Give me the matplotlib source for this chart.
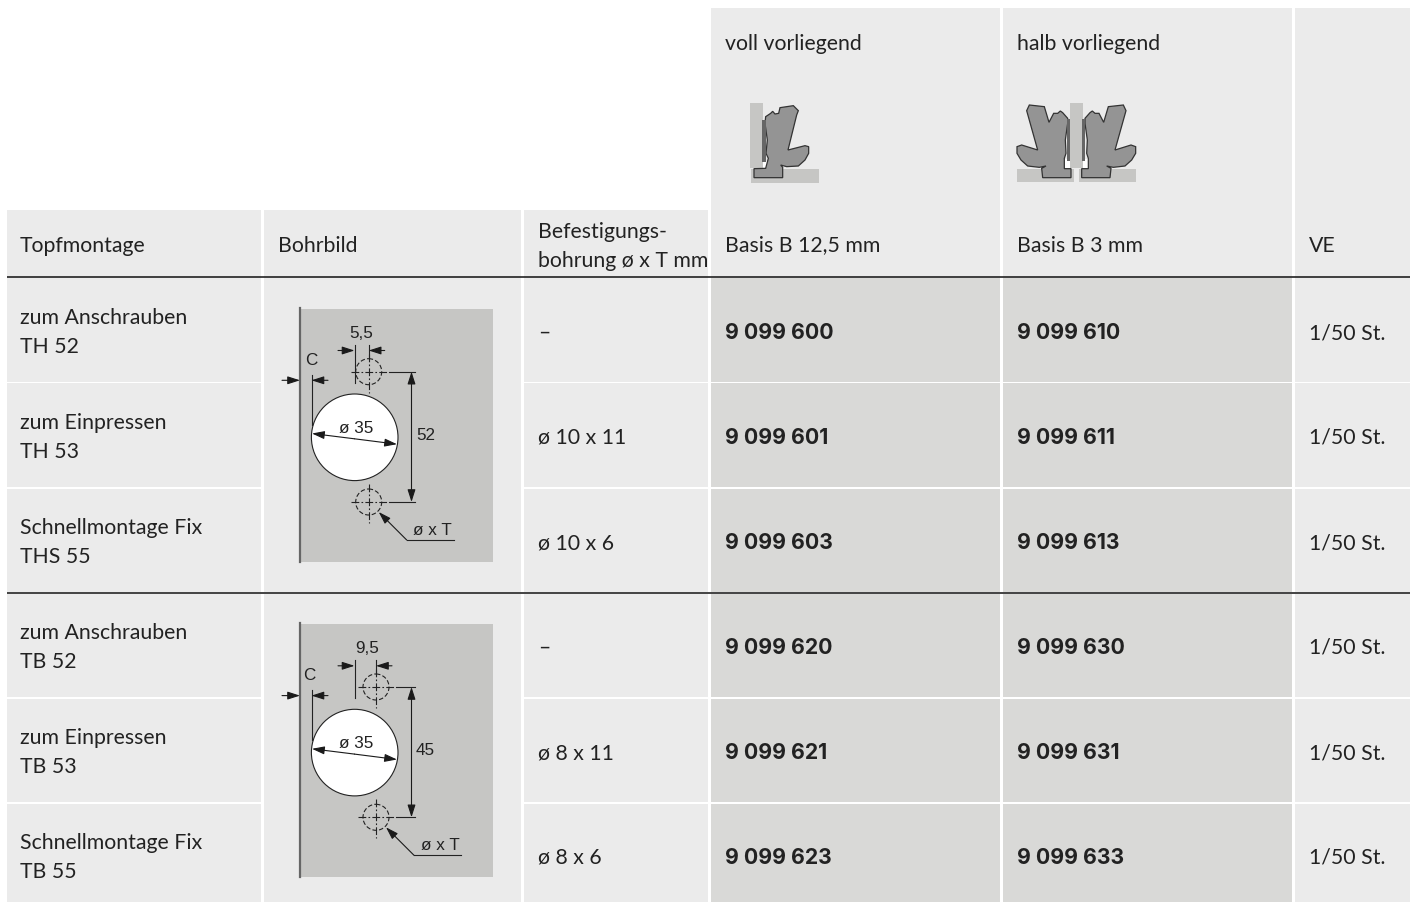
import numpy as np
import matplotlib
matplotlib.use("Agg")
import matplotlib.pyplot as plt
from matplotlib.patches import Rectangle, Circle, Polygon

plt.rcParams['font.family'] = ['Lato', 'DejaVu Sans']

# table content
montage = ["zum Anschrauben\nTH 52", "zum Einpressen\nTH 53", "Schnellmontage Fix\nTHS 55",
           "zum Anschrauben\nTB 52", "zum Einpressen\nTB 53", "Schnellmontage Fix\nTB 55"]
bohrung = ["–", "ø 10 x 11", "ø 10 x 6", "–", "ø 8 x 11", "ø 8 x 6"]
voll = ["9 099 600", "9 099 601", "9 099 603", "9 099 620", "9 099 621", "9 099 623"]
halb = ["9 099 610", "9 099 611", "9 099 613", "9 099 630", "9 099 631", "9 099 633"]
ve = ["1/50 St."] * 6
head = ["Topfmontage", "Bohrbild", "Befestigungs-\nbohrung ø x T mm", "Basis B 12,5 mm", "Basis B 3 mm", "VE"]
top_head = ["voll vorliegend", "halb vorliegend"]

LIGHT = "#ebebeb"
MID = "#d9d9d7"
DARK = "#c6c6c4"
INK = "#222222"
FS = 15.3
SMALL = dict(fontsize=12.3, color=INK, ha="center", va="center", zorder=8, family="Liberation Sans")

col_x = [(7, 260.5), (264, 521), (524, 708), (711, 999.5), (1003, 1291.5), (1295, 1409.7)]
row_y = [(278, 381.5), (383, 487), (488.5, 592), (593.5, 697), (698.5, 802), (803.5, 905)]
row_c = [331, 436, 541, 646, 751, 856]
text_x = [20, 278, 538, 725, 1017, 1309]

fig = plt.figure(figsize=(14.12, 9.03), dpi=100)
ax = fig.add_axes([0, 0, 1, 1])
ax.set_xlim(0, 1412)
ax.set_ylim(902, -1)
ax.axis("off")


def box(x0, x1, y0, y1, c, z=1):
    ax.add_patch(Rectangle((x0, y0), x1 - x0, y1 - y0, fc=c, ec="none", zorder=z))


def label(x, y, s, **kw):
    # y is the baseline of the last line
    kw.setdefault("fontsize", FS)
    ax.text(x, y, s, color=INK, va="baseline", linespacing=1.57, zorder=5, **kw)


# header cells
for i, (x0, x1) in enumerate(col_x):
    top = 8 if i >= 3 else 210
    box(x0, x1, top, 278, LIGHT)
    label(text_x[i], 266 if "\n" in head[i] else 250.5, head[i])

# body cells
for r, (y0, y1) in enumerate(row_y):
    for i, (x0, x1) in enumerate(col_x):
        if i == 1:
            continue
        box(x0, x1, y0, y1, MID if i in (3, 4) else LIGHT)
    yc = row_c[r]
    label(text_x[0], yc + 21, montage[r])
    label(text_x[2], yc + 7, bohrung[r])
    label(text_x[3], yc + 7, voll[r], fontsize=15.3, weight="bold", family="Inter")
    label(text_x[4], yc + 7, halb[r], fontsize=15.3, weight="bold", family="Inter")
    label(text_x[5], yc + 7, ve[r])

box(col_x[1][0], col_x[1][1], 278, 592, LIGHT)
box(col_x[1][0], col_x[1][1], 593.5, 905, LIGHT)

for x, t in zip([725, 1017], top_head):
    label(x, 49, t)

# rules
for y in (277.3, 592.8):
    ax.plot([7, 1409.7], [y, y], color="#222222", lw=1.2, zorder=6, solid_capstyle="butt")


def arrow(p0, p1):
    ax.annotate("", xy=p1, xytext=p0, zorder=8,
                arrowprops=dict(arrowstyle="-|>,head_length=0.75,head_width=0.24", color="#1a1a1a",
                                lw=0.8, shrinkA=0, shrinkB=0))


def line(xs, ys, **kw):
    kw.setdefault("color", "#222222")
    kw.setdefault("lw", 0.8)
    ax.plot(xs, ys, zorder=7, **kw)


def drawing(dy, hole_x, dim, pitch, c_x, dim_x):
    # grey panel
    box(299.5, 492.7, 309 + dy, 561.7 + dy, DARK, 2)
    ax.plot([299.8, 299.8], [308 + dy, 561.7 + dy], color="#666666", lw=1.6, zorder=7)
    cx, cy = 354.7, 437.3 + dy
    ax.add_patch(Circle((cx, cy), 43.3, fc="white", ec="#222222", lw=0.8, zorder=3))
    y_top, y_bot = 371.7 + dy, 502 + dy
    dash = (0, (7, 2, 1.5, 2))
    for y in (y_top, y_bot):
        ax.add_patch(Circle((hole_x, y), 13, fc="none", ec="#222222", lw=0.8, ls=(0, (4, 2)), zorder=4))
        line([hole_x - 18, hole_x + 18], [y, y], ls=dash)
        line([hole_x, hole_x], [y - 18, y + 21], ls=dash)
    # hole spacing
    line([hole_x + 20, 414.5], [y_top, y_top])
    line([hole_x + 20, 414.5], [y_bot, y_bot])
    arrow((411.5, (y_top + y_bot) / 2), (411.5, y_top))
    arrow((411.5, (y_top + y_bot) / 2), (411.5, y_bot))
    ax.text(425.5, 434 + dy, pitch, **SMALL)
    # horizontal offset
    line([354.5, 354.5], [345 + dy, 383 + dy])
    line([hole_x, hole_x], [345 + dy, 358 + dy])
    ax.text(dim_x, 332 + dy, dim, **SMALL)
    arrow((338, 350.5 + dy), (354.5, 350.5 + dy))
    arrow((hole_x + 16, 350.5 + dy), (hole_x, 350.5 + dy))
    # C dimension
    line([311.5, 311.5], [375 + dy, 425 + dy])
    ax.text(c_x, 359 + dy, "C", **SMALL)
    arrow((282, 380.3 + dy), (300, 380.3 + dy))
    arrow((328, 380.3 + dy), (311.5, 380.3 + dy))
    # bore diameter
    arrow((354.5, 438.8 + dy), (312, 433.5 + dy))
    arrow((354.5, 438.8 + dy), (397, 444.2 + dy))
    ax.text(356, 427.5 + dy, "ø 35", **SMALL)
    # leader
    lx = hole_x + 10
    arrow((lx + 28, y_bot + 38), (lx, y_bot + 10))
    line([lx + 28, lx + 75], [y_bot + 38, y_bot + 38])
    ax.text(lx + 54, y_bot + 27.5, "ø x T", **SMALL)


drawing(0, 368.7, "5,5", "52", 311.5, 361)
drawing(315.3, 376, "9,5", "45", 309, 367)

# hinge outlines in pixels relative to the group origin
hinge_a = np.array([(107, 80), (122, 70), (128, 64), (135, 72), (146, 70), (150, 53), (190, 47), (205, 62),
                    (200, 75), (174, 180), (225, 167), (236, 170), (236, 190), (225, 210), (205, 228),
                    (170, 230), (152, 225), (158, 232), (158, 263), (72, 263), (72, 236), (107, 235),
                    (115, 205), (108, 190), (112, 150), (105, 100)], float)
hinge_b = np.array([(240, 85), (255, 68), (262, 63), (270, 70), (282, 70), (296, 97), (310, 50), (355, 45),
                    (363, 62), (330, 180), (378, 165), (392, 170), (392, 190), (380, 210), (360, 228),
                    (325, 232), (305, 228), (318, 235), (315, 263), (230, 263), (230, 236), (250, 236),
                    (250, 205), (245, 190), (247, 150), (240, 100)], float)


def place(pts, ox, oy):
    return pts / 3.0 + np.array([ox, oy])


HG = "#949494"
# voll vorliegend
ox, oy = 730, 90
box(ox + 20, ox + 33, oy + 13, oy + 77.7, "#c6c6c4", 2)
box(ox + 21, ox + 89, oy + 79, oy + 92.7, "#c6c6c4", 2)
box(ox + 33, ox + 38, oy + 71, oy + 79, "white", 3)
ax.add_patch(Polygon(place(hinge_a, ox, oy), fc=HG, ec="#333333", lw=0.9, zorder=4))
box(ox + 32.3, ox + 35.7, oy + 30, oy + 71.7, "#666666", 5)

# halb vorliegend
ox, oy = 1005, 90
box(ox + 65, ox + 77.7, oy + 13, oy + 77.7, "#c6c6c4", 2)
box(ox + 12, ox + 68.7, oy + 79, oy + 91.7, "#c6c6c4", 2)
box(ox + 74, ox + 131, oy + 79, oy + 91.7, "#c6c6c4", 2)
box(ox + 59.5, ox + 65, oy + 69, oy + 78, "white", 3)
box(ox + 77.7, ox + 83, oy + 69, oy + 78, "white", 3)
mirror = hinge_b * np.array([-1, 1]) + np.array([428, 0])
for pts, px in ((hinge_b, 232), (mirror, 187)):
    ax.add_patch(Polygon(place(pts, ox, oy), fc=HG, ec="#333333", lw=0.9, zorder=4))
    box(ox + px / 3.0, ox + (px + 9) / 3.0, oy + 29, oy + 70.7, "#666666", 5)

fig.savefig("out.png", dpi=100, facecolor="white")
